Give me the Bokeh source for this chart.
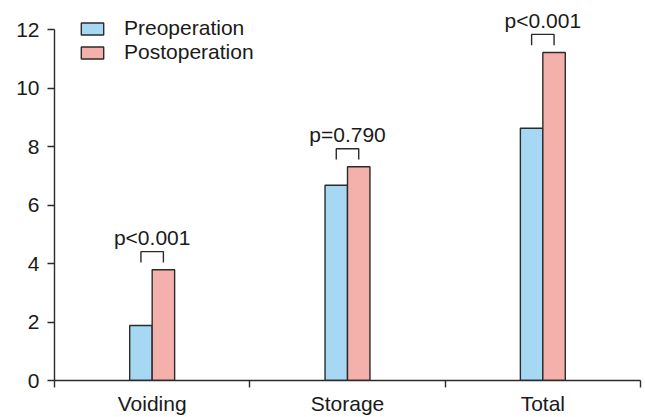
from bokeh.plotting import figure
from bokeh.models import (ColumnDataSource, FixedTicker, Legend, LegendItem, Range1d)
from bokeh.core.properties import value
from bokeh.embed import file_html
from bokeh.resources import INLINE

categories = ["Voiding", "Storage", "Total"]
preoperation = [1.88, 6.68, 8.63]
postoperation = [3.79, 7.31, 11.22]
p_labels = ["p<0.001", "p=0.790", "p<0.001"]
y_ticks = [0, 2, 4, 6, 8, 10, 12]

FONT = "Liberation Sans"
FS = "21px"
BLUE = "#a6d7f3"
PINK = "#f4b0ab"
EDGE = "#2b2b2b"
TEXT = "#1a1a1a"
BAR_W = 0.115

centers = [i + 0.5 for i in range(len(categories))]
pre_x = [c - BAR_W / 2 for c in centers]
post_x = [c + BAR_W / 2 for c in centers]

p = figure(width=645, height=417, output_backend="svg", toolbar_location=None,
           x_range=Range1d(0, 3), y_range=Range1d(0, 13.0),
           min_border_left=54, min_border_right=5, min_border_top=0, min_border_bottom=36)
p.outline_line_color = None
p.xgrid.grid_line_color = None
p.ygrid.grid_line_color = None

src_pre = ColumnDataSource(dict(x=pre_x, top=preoperation))
src_post = ColumnDataSource(dict(x=post_x, top=postoperation))
r_pre = p.vbar(x="x", top="top", bottom=0, width=BAR_W, source=src_pre,
               fill_color=BLUE, line_color=EDGE, line_width=1.4)
r_post = p.vbar(x="x", top="top", bottom=0, width=BAR_W, source=src_post,
                fill_color=PINK, line_color=EDGE, line_width=1.4)

# significance brackets
BR_LOW = 0.25
BR_HIGH = 0.62
TXT_OFF = 1.1
xs, ys = [], []
for xa_, xb_, top in zip(pre_x, post_x, postoperation):
    xs.append([xa_, xa_, xb_, xb_])
    ys.append([top + BR_LOW, top + BR_HIGH, top + BR_HIGH, top + BR_LOW])
p.multi_line(xs=xs, ys=ys, line_color=EDGE, line_width=1.4)

src_txt = ColumnDataSource(dict(x=centers, y=[t + TXT_OFF for t in postoperation], t=p_labels))
p.text(x="x", y="y", text="t", source=src_txt, text_align="center",
       text_baseline="alphabetic", text_font=value(FONT), text_font_size=FS,
       text_color=TEXT)

# axes
xa = p.xaxis[0]
xa.ticker = FixedTicker(ticks=centers, minor_ticks=[0, 1, 2, 3])
xa.major_label_overrides = {c: lab for c, lab in zip(centers, categories)}
xa.major_tick_out = 0
xa.major_tick_in = 0
xa.minor_tick_out = 7
xa.minor_tick_in = 0
xa.minor_tick_line_color = EDGE
xa.minor_tick_line_width = 1.4
xa.axis_line_color = EDGE
xa.axis_line_width = 1.4
xa.major_label_text_font = FONT
xa.major_label_text_font_size = FS
xa.major_label_text_color = TEXT
xa.major_label_standoff = 4
xa.bounds = (0, 3)

ya = p.yaxis[0]
ya.ticker = FixedTicker(ticks=y_ticks, minor_ticks=[])
ya.major_tick_out = 7
ya.major_tick_in = 0
ya.major_tick_line_color = EDGE
ya.major_tick_line_width = 1.4
ya.axis_line_color = EDGE
ya.axis_line_width = 1.4
ya.major_label_text_font = FONT
ya.major_label_text_font_size = FS
ya.major_label_text_color = TEXT
ya.major_label_standoff = 8
ya.bounds = (0, 12)

legend = Legend(items=[LegendItem(label="Preoperation", renderers=[r_pre]),
                       LegendItem(label="Postoperation", renderers=[r_post])],
                location=(24, 316), margin=0, padding=0, spacing=-2,
                glyph_width=28, glyph_height=15, label_standoff=18,
                label_text_font=FONT, label_text_font_size=FS,
                label_text_color=TEXT, border_line_color=None,
                background_fill_alpha=0)
p.add_layout(legend)

open("out.html", "w").write(file_html(p, INLINE))
